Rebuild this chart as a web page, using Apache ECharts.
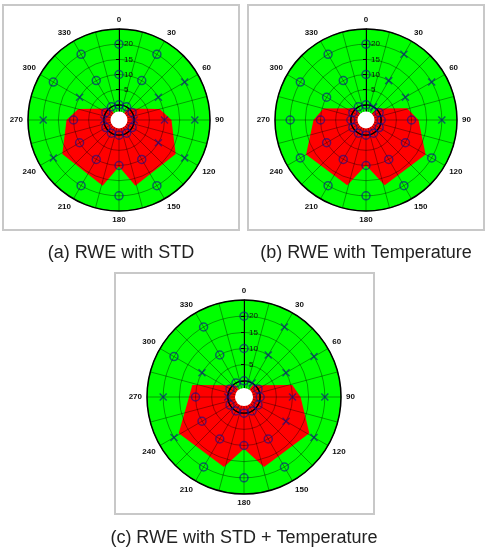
<!DOCTYPE html>
<html><head><meta charset="utf-8">
<script src="https://cdn.jsdelivr.net/npm/echarts@6/dist/echarts.min.js"></script>
<style>html,body{margin:0;padding:0;background:#fff}#c{width:490px;height:552px}</style>
</head><body><div id="c"></div>
<script>
// ---- data ----
const angles = [0,30,60,90,120,150,180,210,240,270,300,330];
const ringRadius = [0,10,20];
const angleTicks = [0,30,60,90,120,150,180,210,240,270,300,330];
const radiusTicks = [5,10,15,20];
// marker kinds (O / X) per ring (radius 0, 10, 20), by angle
const markA0  = ['O','O','O','X','O','O','O','O','O','X','O','O'];
const markA10 = ['O','O','X','X','X','O','O','O','O','O','X','O'];
const markA20 = ['O','O','X','X','X','O','O','O','X','X','O','O'];
const markB0  = ['O','X','O','O','O','O','O','O','O','O','O','O'];
const markB10 = ['O','X','X','O','O','O','O','O','O','O','O','O'];
const markB20 = ['O','X','X','X','O','O','O','O','O','O','O','O'];
const markC0  = ['O','X','O','O','O','O','O','O','O','X','O','O'];
const markC10 = ['O','X','X','X','X','O','O','O','O','O','X','O'];
const markC20 = ['O','X','X','X','X','O','O','O','X','X','O','O'];
// red region boundary vertices (angle in degrees, radius)
const redA_angle  = [0, 37, 75, 90, 121, 166, 180, 194, 239, 270, 285, 323];
const redA_radius = [-5, -0.3, 8.9, 12.3, 16.8, 17.3, 10.3, 17.3, 16.8, 12.3, 8.9, -0.3];
const redB_angle  = [0, 43, 74, 90, 120, 164, 180, 196, 240, 270, 285, 318];
const redB_radius = [-5, 0.2, 9.1, 12.3, 17.7, 17.4, 9.9, 17.4, 17.8, 12.3, 9.5, 0.2];
const redC_angle  = [0, 36, 76, 90, 119, 164, 180, 196, 241, 270, 283, 324];
const redC_radius = [-5, -0.5, 10.4, 12.5, 18.1, 17.5, 11, 17.5, 18.1, 12, 11.4, -0.5];
const captions = ['(a) RWE with STD', '(b) RWE with Temperature', '(c) RWE with STD + Temperature'];

// ---- layout / style ----
const HOLE = -2.2;
const panels = [
  {center:[119,120], r:91, marks:[markA0,markA10,markA20], ra:redA_angle, rr:redA_radius, cap:[121,253], frame:[3,5,236,225]},
  {center:[366,120], r:91, marks:[markB0,markB10,markB20], ra:redB_angle, rr:redB_radius, cap:[366,253], frame:[248,5,236,225]},
  {center:[244,397], r:97, marks:[markC0,markC10,markC20], ra:redC_angle, rr:redC_radius, cap:[244,538], frame:[115,273,259,241]}
];
const gridLine = {color:'rgba(0,0,0,0.55)', width:0.7};
const markColor = 'rgba(15,15,140,0.8)';

const option = {
  animation:false,
  backgroundColor:'#fff',
  polar: panels.map(p=>({center:p.center, radius:p.r})),
  angleAxis: panels.map((p,i)=>({
    polarIndex:i, type:'value', min:0, max:360, interval:15, startAngle:90, clockwise:true, z:10,
    axisLine:{lineStyle:{color:'#000', width:1.5}},
    axisTick:{show:false},
    splitLine:{show:true, lineStyle:gridLine},
    axisLabel:{formatter:v=> angleTicks.indexOf(v)>=0 ? String(v) : '', fontSize:8, fontWeight:'bold', color:'#111', margin:5, fontFamily:'Liberation Sans'}
  })),
  radiusAxis: panels.map((p,i)=>({
    polarIndex:i, type:'value', min:-5, max:25, interval:5, z:10,
    axisLine:{lineStyle:{color:'#000', width:1}},
    axisTick:{show:true, inside:true, length:3, lineStyle:{color:'#000'}},
    splitLine:{show:true, lineStyle:gridLine},
    axisLabel:{formatter:v=> radiusTicks.indexOf(v)>=0 ? String(v) : '', fontSize:8, color:'#111', margin:-5, align:'left', verticalAlign:'middle', fontFamily:'Liberation Sans'}
  })),
  series: [],
  graphic: []
};

panels.forEach((p,i)=>{
  option.series.push({
    type:'custom', coordinateSystem:'polar', polarIndex:i, z:1, silent:true, data:[[0,0]],
    renderItem:(params, api)=>{const cs=params.coordSys; return {type:'circle', shape:{cx:cs.cx, cy:cs.cy, r:cs.r}, style:{fill:'#00ff00'}};}
  });
  option.series.push({
    type:'custom', coordinateSystem:'polar', polarIndex:i, z:2, silent:true, data:[[0,0]],
    renderItem:(params, api)=>{
      const pts = p.rr.map((r,k)=>api.coord([r, p.ra[k]]));
      return {type:'polygon', shape:{points:pts}, style:{fill:'#ff0000'}};
    }
  });
  option.series.push({
    type:'custom', coordinateSystem:'polar', polarIndex:i, z:11, silent:true, data:[[0,0]],
    renderItem:(params, api)=>{
      const c = api.coord([-5,0]);
      const h = api.coord([HOLE,0]);
      const z = api.coord([0,0]);
      const rh = Math.hypot(h[0]-c[0], h[1]-c[1]);
      const rz = Math.hypot(z[0]-c[0], z[1]-c[1]);
      return {type:'group', children:[
        {type:'circle', shape:{cx:c[0], cy:c[1], r:rh}, style:{fill:'#fff'}},
        {type:'circle', shape:{cx:c[0], cy:c[1], r:rz}, style:{fill:'none', stroke:'#000', lineWidth:1.4}}
      ]};
    }
  });
  ['O','X'].forEach(kind=>{
    const data=[];
    p.marks.forEach((ring,ri)=>ring.forEach((m,ai)=>{ if(m===kind) data.push([ringRadius[ri], angles[ai]]); }));
    option.series.push({
      type:'scatter', coordinateSystem:'polar', polarIndex:i, z:12, silent:true, data:data,
      symbol: kind==='O' ? 'circle' : 'path://M0,0L10,10M10,0L0,10',
      symbolSize: kind==='O' ? 8 : 7,
      itemStyle:{color:'rgba(0,0,0,0)', borderColor:markColor, borderWidth:1.5}
    });
  });
  option.graphic.push({type:'rect', shape:{x:p.frame[0], y:p.frame[1], width:p.frame[2], height:p.frame[3]}, style:{fill:'none', stroke:'#c8c8c8', lineWidth:2}, z:0});
  option.graphic.push({type:'text', x:p.cap[0], y:p.cap[1], style:{text:captions[i], align:'center', verticalAlign:'middle', font:'18px "Liberation Sans", Arial, sans-serif', fill:'#222'}});
});

const chart = echarts.init(document.getElementById('c'));
chart.setOption(option);
</script></body></html>
